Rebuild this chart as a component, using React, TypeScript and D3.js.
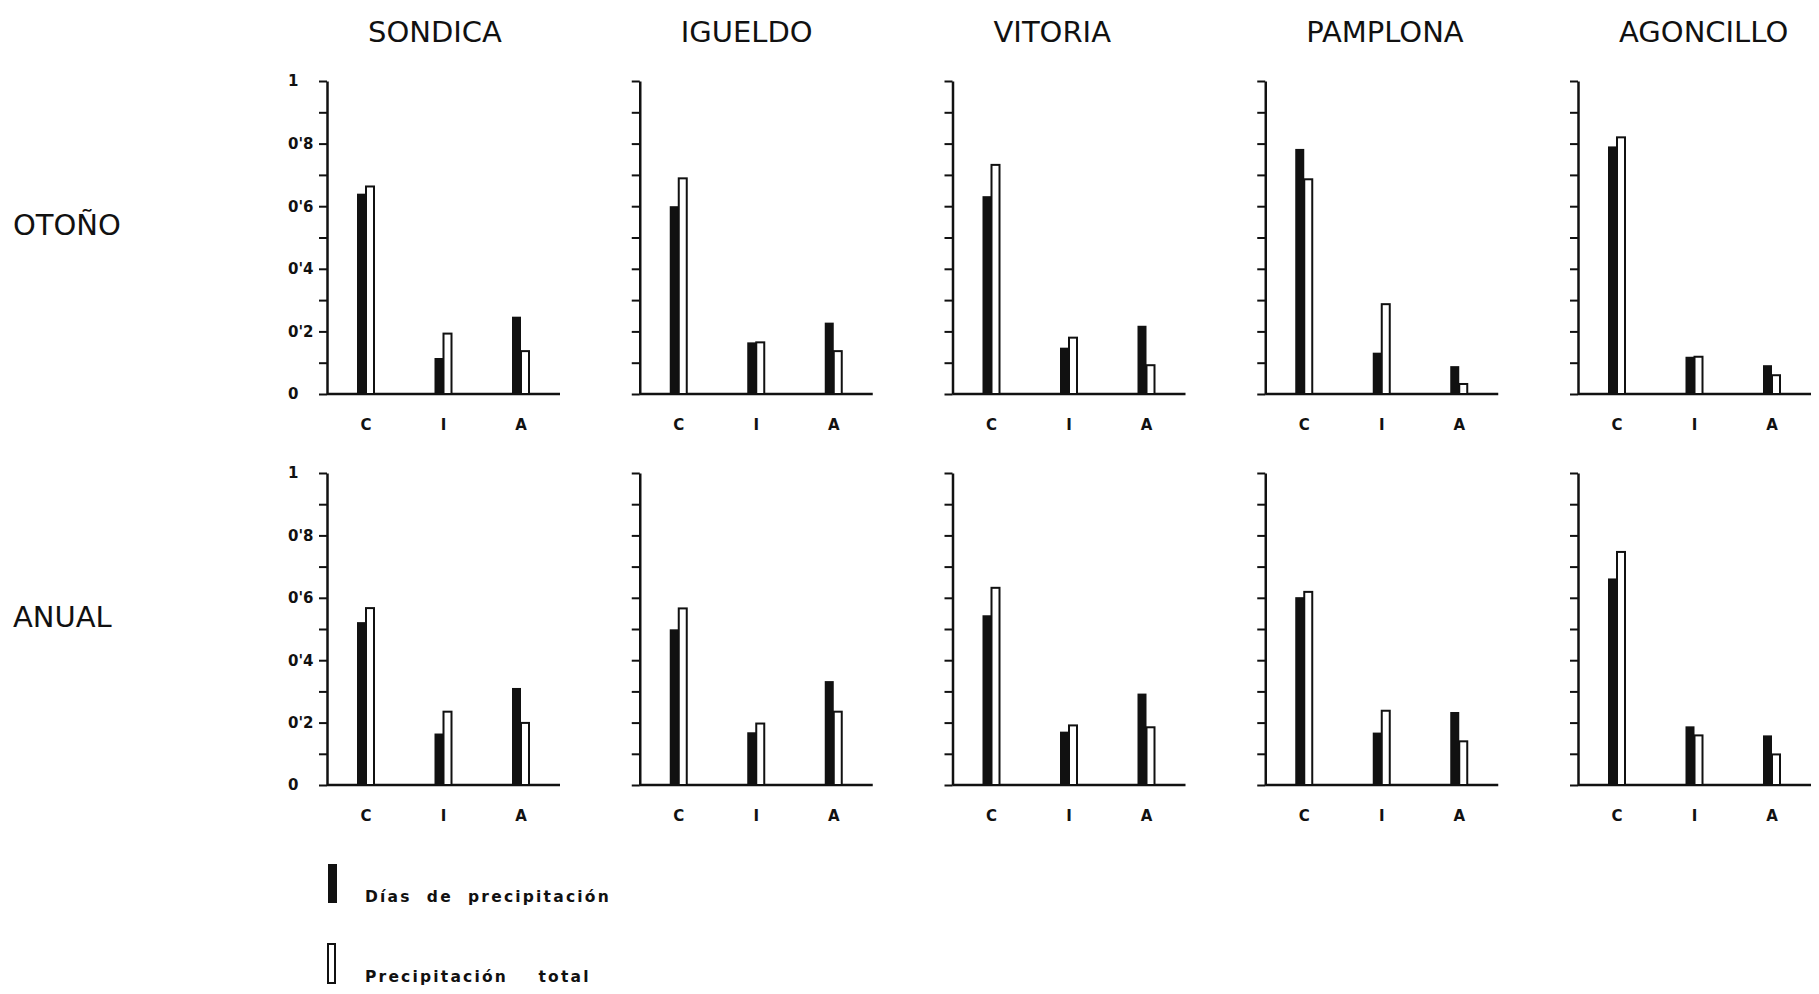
import { useRef, useEffect } from "react";
import * as d3 from "d3";

const stations = ["SONDICA", "IGUELDO", "VITORIA", "PAMPLONA", "AGONCILLO"];
const seasons = ["OTOÑO", "ANUAL"];
const categories = ["C", "I", "A"];

// Días de precipitación (black) / Precipitación total (white), per station: C, I, A
const otonoDias = [
  [0.64, 0.115, 0.247],
  [0.6, 0.165, 0.228],
  [0.632, 0.148, 0.218],
  [0.783, 0.132, 0.089],
  [0.791, 0.119, 0.092],
];
const otonoTotal = [
  [0.663, 0.193, 0.137],
  [0.689, 0.165, 0.137],
  [0.732, 0.18, 0.092],
  [0.686, 0.287, 0.032],
  [0.82, 0.119, 0.06],
];
const anualDias = [
  [0.522, 0.165, 0.311],
  [0.499, 0.169, 0.333],
  [0.544, 0.171, 0.293],
  [0.602, 0.168, 0.234],
  [0.662, 0.188, 0.159],
];
const anualTotal = [
  [0.567, 0.235, 0.199],
  [0.566, 0.197, 0.235],
  [0.632, 0.191, 0.185],
  [0.619, 0.238, 0.14],
  [0.747, 0.159, 0.098],
];

const tickValues = [0, 0.2, 0.4, 0.6, 0.8, 1];
const tickLabels = ["0", "0'2", "0'4", "0'6", "0'8", "1"];
const legendLabels = ["Días  de  precipitación", "Precipitación    total"];

const App = () => {
  const ref = useRef(null);
  const width = 1819;
  const height = 994;

  useEffect(() => {
    const svg = d3.select(ref.current);
    svg.selectAll("*").remove();
    svg.append("rect").attr("width", width).attr("height", height).attr("fill", "#fff");

    const rowData = [
      { dias: otonoDias, total: otonoTotal, top: 81, bottom: 394 },
      { dias: anualDias, total: anualTotal, top: 473, bottom: 785 },
    ];
    const panelX = d3.scaleLinear().domain([0, stations.length - 1]).range([327, 1578]);
    const plotW = 233;
    const x = d3.scalePoint().domain(categories).range([39, 194]);
    const barW = 9;

    // station titles
    svg
      .selectAll(".title")
      .data(stations)
      .enter()
      .append("text")
      .attr("class", "title")
      .attr("x", (d, i) => panelX(i) + 41)
      .attr("y", 42)
      .attr("font-family", "DejaVu Sans, sans-serif")
      .attr("font-size", 29)
      .attr("fill", "#111")
      .text((d) => d);

    rowData.forEach((row, r) => {
      const y = d3.scaleLinear().domain([0, 1]).range([row.bottom, row.top]);

      // season label
      svg
        .append("text")
        .attr("x", 13)
        .attr("y", y(0.54) + 10)
        .attr("font-family", "DejaVu Sans, sans-serif")
        .attr("font-size", 29)
        .attr("fill", "#111")
        .text(seasons[r]);

      stations.forEach((s, i) => {
        const g = svg.append("g").attr("transform", `translate(${panelX(i)},0)`);

        const axis = d3
          .axisLeft(y)
          .tickValues(d3.range(0, 11).map((k) => k / 10))
          .tickSize(8)
          .tickSizeOuter(0)
          .tickFormat("");
        const ax = g.append("g").call(axis);
        ax.select(".domain").attr("stroke", "#111").attr("stroke-width", 2.5);
        ax.selectAll(".tick line").attr("stroke", "#111").attr("stroke-width", 2);

        if (i === 0) {
          g.selectAll(".ylab")
            .data(tickValues)
            .enter()
            .append("text")
            .attr("x", -39)
            .attr("y", (d) => y(d))
            .attr("dy", "0.36em")
            .attr("font-family", "DejaVu Sans, sans-serif")
            .attr("font-weight", "bold")
            .attr("font-size", 15)
            .attr("fill", "#111")
            .text((d, k) => tickLabels[k]);
        }

        // baseline
        g.append("line")
          .attr("x1", 0)
          .attr("x2", plotW)
          .attr("y1", y(0))
          .attr("y2", y(0))
          .attr("stroke", "#111")
          .attr("stroke-width", 2.5);

        // black bars
        g.selectAll(".dias")
          .data(categories)
          .enter()
          .append("rect")
          .attr("x", (c) => x(c) - barW)
          .attr("y", (c, k) => y(row.dias[i][k]))
          .attr("width", barW)
          .attr("height", (c, k) => y(0) - y(row.dias[i][k]))
          .attr("fill", "#111");

        // white bars
        g.selectAll(".total")
          .data(categories)
          .enter()
          .append("rect")
          .attr("x", (c) => x(c))
          .attr("y", (c, k) => y(row.total[i][k]))
          .attr("width", barW - 1)
          .attr("height", (c, k) => y(0) - y(row.total[i][k]))
          .attr("fill", "#fff")
          .attr("stroke", "#111")
          .attr("stroke-width", 2);

        // category labels
        g.selectAll(".cat")
          .data(categories)
          .enter()
          .append("text")
          .attr("x", (c) => x(c))
          .attr("y", y(0) + 31)
          .attr("dy", "0.36em")
          .attr("text-anchor", "middle")
          .attr("font-family", "DejaVu Sans, sans-serif")
          .attr("font-weight", "bold")
          .attr("font-size", 15)
          .attr("fill", "#111")
          .text((c) => c);
      });
    });

    // legend
    const legend = svg
      .selectAll(".legend")
      .data(legendLabels)
      .enter()
      .append("g")
      .attr("class", "legend")
      .attr("transform", (d, i) => `translate(328, ${864 + i * 80})`);
    legend
      .append("rect")
      .attr("x", 0)
      .attr("y", 0)
      .attr("width", (d, i) => (i === 0 ? 9 : 7))
      .attr("height", 39)
      .attr("fill", (d, i) => (i === 0 ? "#111" : "#fff"))
      .attr("stroke", "#111")
      .attr("stroke-width", (d, i) => (i === 0 ? 0 : 2));
    legend
      .append("text")
      .attr("x", 37)
      .attr("y", 38)
      .attr("font-family", "DejaVu Sans, sans-serif")
      .attr("font-weight", "bold")
      .attr("font-size", 15.5)
      .attr("letter-spacing", 2.2)
      .attr("fill", "#111")
      .attr("xml:space", "preserve")
      .style("white-space", "pre")
      .text((d) => d);
  }, []);

  return (
    <svg
      ref={ref}
      width={width}
      height={height}
      style={{ position: "absolute", left: 0, top: 0 }}
    ></svg>
  );
};

export default App;
